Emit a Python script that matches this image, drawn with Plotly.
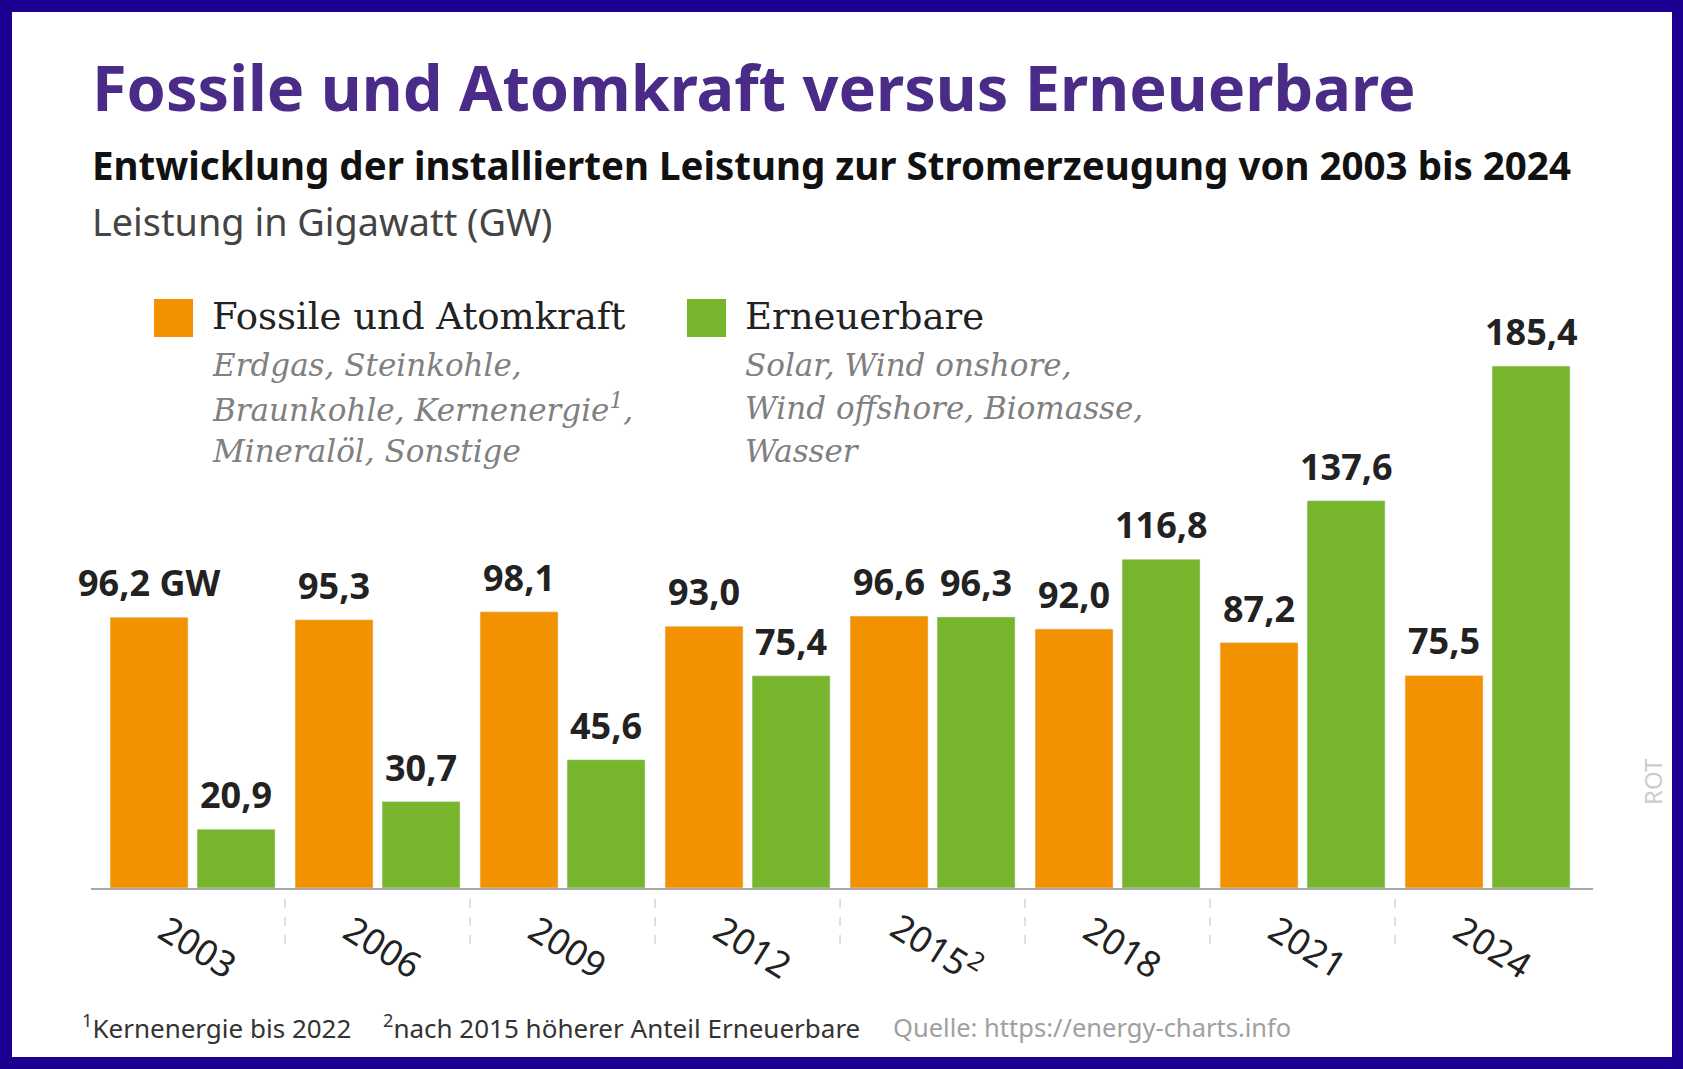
import plotly.graph_objects as go

W, H = 1683, 1069

years = ["2003", "2006", "2009", "2012", "2015", "2018", "2021", "2024"]
year_labels = ["2003", "2006", "2009", "2012", "2015<sup>2</sup>", "2018", "2021", "2024"]
fossil = [96.2, 95.3, 98.1, 93.0, 96.6, 92.0, 87.2, 75.5]
renewable = [20.9, 30.7, 45.6, 75.4, 96.3, 116.8, 137.6, 185.4]

title = "Fossile und Atomkraft versus Erneuerbare"
subtitle = "Entwicklung der installierten Leistung zur Stromerzeugung von 2003 bis 2024"
unit_note = "Leistung in Gigawatt (GW)"
legend_names = ["Fossile und Atomkraft", "Erneuerbare"]
legend_details = [
    ["Erdgas, Steinkohle,", "Braunkohle, Kernenergie<sup>1</sup>,", "Mineralöl, Sonstige"],
    ["Solar, Wind onshore,", "Wind offshore, Biomasse,", "Wasser"],
]
footnotes = [
    "<sup>1</sup>Kernenergie bis 2022",
    "<sup>2</sup>nach 2015 höherer Anteil Erneuerbare",
    "Quelle: https://energy-charts.info",
]

ORANGE = "#F39200"
GREEN = "#77B52C"
PURPLE = "#4A2C88"
BORDER = "#1E0090"
SANS = "Noto Sans"
SERIF = "DejaVu Serif"


def fmt(v):
    return f"{v:.1f}".replace(".", ",")


def px(x):
    return x / W


def py(y):
    return 1 - y / H


fossil_text = [fmt(v) for v in fossil]
fossil_text[0] += " GW"
renewable_text = [fmt(v) for v in renewable]

label_font = dict(family=SANS, size=36, color="#222222", weight="bold")

fig = go.Figure()
fig.add_trace(go.Bar(x=years, y=fossil, name=legend_names[0], marker_color=ORANGE))
fig.add_trace(go.Bar(x=years, y=renewable, name=legend_names[1], marker_color=GREEN))

ann = []
# value labels above the bars (orange left, green right within each year group)
for values, texts, shift in [(fossil, fossil_text, -43.5), (renewable, renewable_text, 43.5)]:
    for i, (v, t) in enumerate(zip(values, texts)):
        ann.append(dict(text=t, x=i, xref="x", y=v, yref="y", xshift=shift, yshift=8,
                        xanchor="center", yanchor="bottom", font=label_font))

# headings
ann.append(dict(text=f"<b>{title}</b>", x=px(90), y=py(111 - 0.39 * 63), xanchor="left", yanchor="middle",
                font=dict(family=SANS, size=63, color=PURPLE)))
ann.append(dict(text=f"<b>{subtitle}</b>", x=px(90), y=py(180 - 0.39 * 38.5), xanchor="left", yanchor="middle",
                font=dict(family=SANS, size=38.5, color="#111111")))
ann.append(dict(text=unit_note, x=px(90), y=py(236 - 0.39 * 37.8), xanchor="left", yanchor="middle",
                font=dict(family=SANS, size=37.8, color="#444444")))

# legend blocks
for i, (name, lines) in enumerate(zip(legend_names, legend_details)):
    x_tx = [210, 743][i]
    ann.append(dict(text=name, x=px(x_tx), y=py(317), xanchor="left", yanchor="middle",
                    font=dict(family=SERIF, size=37, color="#222222")))
    for k, line in enumerate(lines):
        ann.append(dict(text=f"<i>{line}</i>", x=px(x_tx), y=py(365 + 43 * k), xanchor="left",
                        yanchor="middle", font=dict(family=SERIF, size=31, color="#808080")))

# year labels under the axis
for i, lab in enumerate(year_labels):
    ann.append(dict(text=lab, x=i, xref="x", y=py(946), yref="paper", xshift=5,
                    xanchor="center", yanchor="middle", textangle=32,
                    font=dict(family=SANS, size=36, color="#222222")))

# footnotes
for txt, x0, col, fs in zip(footnotes, [80, 381, 891], ["#333333", "#333333", "#A0A0A0"], [26, 26, 25.5]):
    ann.append(dict(text=txt, x=px(x0), y=py(1037 - 0.39 * 26), xanchor="left", yanchor="middle",
                    font=dict(family=SANS, size=fs, color=col)))

ann.append(dict(text="ROT", x=px(1652), y=py(782), textangle=-90, xanchor="center", yanchor="middle",
                font=dict(family=SANS, size=24, color="#CCCCCC")))

for a in ann:
    a.setdefault("xref", "paper")
    a.setdefault("yref", "paper")
    a.setdefault("showarrow", False)

shapes = [
    dict(type="rect", xref="paper", yref="paper", x0=px(12), x1=px(1672), y0=py(1057), y1=py(12),
         fillcolor="white", line_width=0, layer="below"),
]
for i, col in enumerate([ORANGE, GREEN]):
    x_sq = [154, 687][i]
    shapes.append(dict(type="rect", xref="paper", yref="paper", x0=px(x_sq), x1=px(x_sq + 39),
                       y0=py(337), y1=py(299), fillcolor=col, line_width=0))
for i in range(len(years) - 1):
    shapes.append(dict(type="line", xref="x", yref="paper", x0=i + 0.5, x1=i + 0.5,
                       y0=py(899), y1=py(946), line=dict(color="#D5D5D5", width=1.5, dash="dash")))

fig.update_layout(
    width=W, height=H, autosize=False,
    margin=dict(l=0, r=0, t=0, b=0),
    paper_bgcolor=BORDER, plot_bgcolor="white",
    barmode="group", bargap=0.0595, bargroupgap=0.1034,
    showlegend=False,
    annotations=ann, shapes=shapes,
    xaxis=dict(type="category", domain=[px(91), px(1593)], range=[-0.549, 7.57], showticklabels=False,
               ticks="", showgrid=False, showline=True, linecolor="#A8A8A8", linewidth=2,
               zeroline=False, fixedrange=True),
    yaxis=dict(domain=[py(888), py(325)], range=[0, 200], visible=False, fixedrange=True),
)

fig.write_html("out.html", config={"displayModeBar": False},
               post_script="document.body.style.margin='0px';document.body.style.overflow='hidden';")
